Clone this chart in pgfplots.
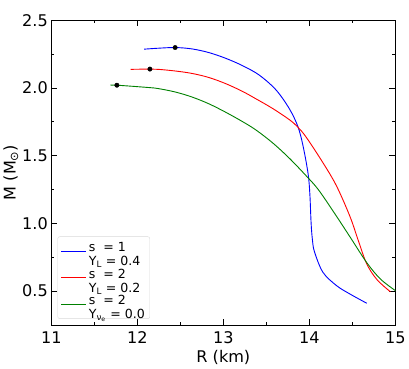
\documentclass[border=0pt]{standalone}
\usepackage{pgfplots}
\pgfplotsset{compat=1.18}
\usepackage{fontspec}
\setmainfont{DejaVu Sans}
\definecolor{mblue}{rgb}{0,0,1}
\definecolor{mred}{rgb}{1,0,0}
\definecolor{mgreen}{rgb}{0,0.5,0}
\pgfplotsset{
    mrline/.style={line width=0.9pt, smooth, tension=0.55},
}
\newcommand{\lentry}[2]{\begin{tabular}{@{}l@{}}#1\\[0pt]#2\end{tabular}}
\begin{document}
\begin{tikzpicture}
\begin{axis}[
    scale only axis,
    width=341bp, height=302bp,
    xmin=11, xmax=15, ymin=0.25, ymax=2.5,
    xtick={11,12,13,14,15}, ytick={0.5,1.0,1.5,2.0,2.5},
    minor x tick num=1, minor y tick num=1,
    xticklabel style={yshift=-3bp, /pgf/number format/.cd,fixed,precision=0},
    yticklabel style={/pgf/number format/.cd,fixed,fixed zerofill,precision=1},
    /pgf/number format/assume math mode=true,
    tick align=inside,
    major tick length=6bp, minor tick length=3bp,
    every tick/.style={black, line width=0.6pt},
    axis line style={line width=0.8pt},
    ticklabel style={font=\fontsize{16}{18}\selectfont},
    label style={font=\fontsize{16}{18}\selectfont},
    xlabel={R (km)}, ylabel={M (M\textsubscript{⊙})},
    ylabel style={yshift=-3bp},
    clip=true,
    legend cell align=left,
    legend style={at={(rel axis cs:0.018,0.02)}, anchor=south west,
        draw=black!15, rounded corners=2pt,
        font=\fontsize{12.5}{14}\selectfont,
        row sep=4pt, inner sep=3pt},
]
\addlegendimage{legend image code/.code={\draw[mblue, line width=0.9pt] (0bp,0bp) -- (25bp,0bp);}}
\addlegendentry{\lentry{s\ \ = 1}{Y\textsubscript{L} = 0.4}}
\addlegendimage{legend image code/.code={\draw[mred, line width=0.9pt] (0bp,0bp) -- (25bp,0bp);}}
\addlegendentry{\lentry{s\ \ = 2}{Y\textsubscript{L} = 0.2}}
\addlegendimage{legend image code/.code={\draw[mgreen, line width=0.9pt] (0bp,0bp) -- (25bp,0bp);}}
\addlegendentry{\lentry{s\ \ = 2}{Y\textsubscript{ν\textsubscript{e}} = 0.0}}
\addplot[color=mblue, mrline, forget plot] coordinates {
(12.079,2.286)(12.243,2.293)(12.439,2.298)(12.634,2.288)(12.83,2.261)(13.025,2.219)
(13.22,2.165)(13.416,2.095)(13.612,1.985)(13.768,1.845)(13.866,1.715)(13.925,1.575)
(13.984,1.37)(14.005,1.22)(14.02,1.0)(14.035,0.88)(14.059,0.79)(14.157,0.639)
(14.316,0.54)(14.472,0.478)(14.667,0.41)
};
\addplot[color=mred, mrline, forget plot] coordinates {
(11.923,2.137)(12.146,2.139)(12.243,2.137)(12.439,2.125)(12.634,2.107)(12.83,2.077)
(13.025,2.032)(13.22,1.975)(13.377,1.92)(13.573,1.848)(13.768,1.765)(13.866,1.71)
(13.964,1.635)(14.16,1.445)(14.316,1.275)(14.472,1.05)(14.57,0.87)(14.667,0.70)
(14.785,0.585)(14.941,0.495)
};
\addplot[color=mgreen, mrline, forget plot] coordinates {
(11.688,2.02)(11.762,2.02)(12.126,2.003)(12.243,1.995)(12.439,1.97)(12.634,1.933)
(12.83,1.883)(13.025,1.821)(13.22,1.752)(13.377,1.69)(13.573,1.594)(13.768,1.48)
(13.964,1.35)(14.1,1.252)(14.276,1.09)(14.472,0.90)(14.667,0.71)(14.824,0.59)
(15.0,0.503)(15.05,0.485)
};
\addplot[only marks, mark=*, mark size=2.2pt, black, forget plot] coordinates {
(12.439,2.298)(12.146,2.139)(11.762,2.02)
};
\end{axis}
\path ([yshift=20bp]current axis.north);
\end{tikzpicture}
\end{document}
